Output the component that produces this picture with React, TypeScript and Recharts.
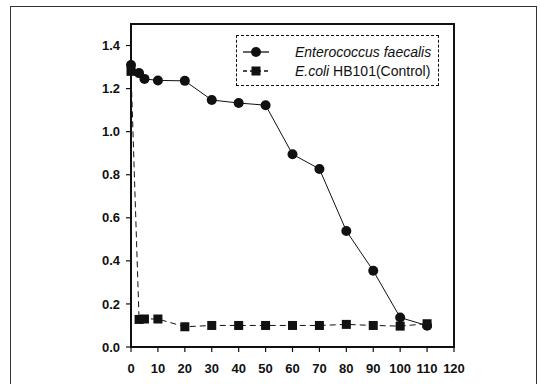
import React from "react";
import {
    LineChart,
    Line,
    XAxis,
    YAxis,
} from "recharts";

const times = [0, 3, 5, 10, 20, 30, 40, 50, 60, 70, 80, 90, 100, 110];
const faecalis = [1.31, 1.272, 1.245, 1.238, 1.236, 1.147, 1.133, 1.123, 0.895, 0.827, 0.539, 0.354, 0.137, 0.099];
const ecoli = [1.28, 0.128, 0.13, 0.13, 0.094, 0.1, 0.1, 0.1, 0.1, 0.1, 0.105, 0.1, 0.097, 0.108];
const xTicks = [0, 10, 20, 30, 40, 50, 60, 70, 80, 90, 100, 110, 120];
const yTicks = [0, 0.2, 0.4, 0.6, 0.8, 1.0, 1.2, 1.4];

const data = times.map((t, i) => ({ t, faecalis: faecalis[i], ecoli: ecoli[i] }));

const W = 541;
const H = 384;
const margin = { top: 24, right: 87, bottom: 0, left: 0 };
const yAxisWidth = 131;
const xAxisHeight = 37;

const ink = "#111";
const font = "Liberation Sans, Arial, sans-serif";
const tickStyle = { fill: ink, fontSize: 13, fontWeight: "bold", fontFamily: font };
const axisLine = { stroke: ink, strokeWidth: 1.5 };

function SquareDot(props: any) {
    const { cx, cy } = props;
    if (cx == null || cy == null) return null;
    return <rect x={cx - 4.5} y={cy - 4.5} width={9} height={9} fill={ink} />;
}

function LegendBox() {
    const row = (dashed: boolean, label: React.ReactNode) => (
        <div style={{ display: "flex", alignItems: "center", height: 19 }}>
            <svg width={44} height={12} style={{ marginLeft: 6 }}>
                <line x1={0} y1={6} x2={26} y2={6} stroke={ink} strokeWidth={1.3} strokeDasharray={dashed ? "4 3" : undefined} />
                {dashed ? (
                    <rect x={8.5} y={1.5} width={9} height={9} fill={ink} />
                ) : (
                    <circle cx={13} cy={6} r={5} fill={ink} />
                )}
            </svg>
            <span style={{ marginLeft: 8, whiteSpace: "nowrap" }}>{label}</span>
        </div>
    );
    return (
        <div
            style={{
                position: "absolute",
                left: 236,
                top: 35,
                width: 201,
                height: 43,
                border: `1px dashed ${ink}`,
                paddingTop: 6,
                fontFamily: font,
                fontSize: 14,
                color: ink,
                background: "#fff",
            }}
        >
            {row(false, <i>Enterococcus faecalis</i>)}
            {row(true, <span><i>E.coli</i> HB101(Control)</span>)}
        </div>
    );
}

export default function App() {
    // plot box, from the chart margins and axis sizes
    const plotLeft = margin.left + yAxisWidth;
    const plotTop = margin.top;
    const plotW = W - plotLeft - margin.right;
    const plotH = H - plotTop - margin.bottom - xAxisHeight;

    return (
        <div style={{ position: "fixed", left: 0, top: 0, width: W, height: H, overflow: "hidden", background: "#fff" }}>
            <div style={{ position: "absolute", left: 10, top: 6, width: 527, height: 400, border: "1px solid #333", boxSizing: "border-box" }} />
            {/* plot frame, drawn first like the outer frame */}
            <div
                style={{
                    position: "absolute",
                    left: plotLeft - 1,
                    top: plotTop - 1,
                    width: plotW + 2,
                    height: plotH + 2,
                    border: "2px solid #111",
                    boxSizing: "border-box",
                }}
            />
            <div style={{ position: "absolute", left: 0, top: 0 }}>
                <LineChart width={W} height={H} data={data} margin={margin}>
                    <XAxis
                        dataKey="t"
                        type="number"
                        domain={[0, 120]}
                        ticks={xTicks}
                        height={xAxisHeight}
                        tick={tickStyle}
                        tickSize={5}
                        tickMargin={12}
                        axisLine={axisLine}
                        tickLine={{ stroke: ink, strokeWidth: 1.2 }}
                    />
                    <YAxis
                        type="number"
                        domain={[0, 1.5]}
                        ticks={yTicks}
                        width={yAxisWidth}
                        tick={tickStyle}
                        tickFormatter={(v: number) => v.toFixed(1)}
                        tickSize={5}
                        tickMargin={6}
                        axisLine={axisLine}
                        tickLine={{ stroke: ink, strokeWidth: 1.2 }}
                    />
                    <Line
                        dataKey="ecoli"
                        stroke={ink}
                        strokeWidth={1}
                        strokeDasharray="6 4"
                        dot={<SquareDot />}
                        isAnimationActive={false}
                    />
                    <Line
                        dataKey="faecalis"
                        stroke={ink}
                        strokeWidth={1}
                        dot={{ r: 5, fill: ink, stroke: ink, strokeWidth: 0 }}
                        isAnimationActive={false}
                    />
                </LineChart>
            </div>
            <LegendBox />
        </div>
    );
}
